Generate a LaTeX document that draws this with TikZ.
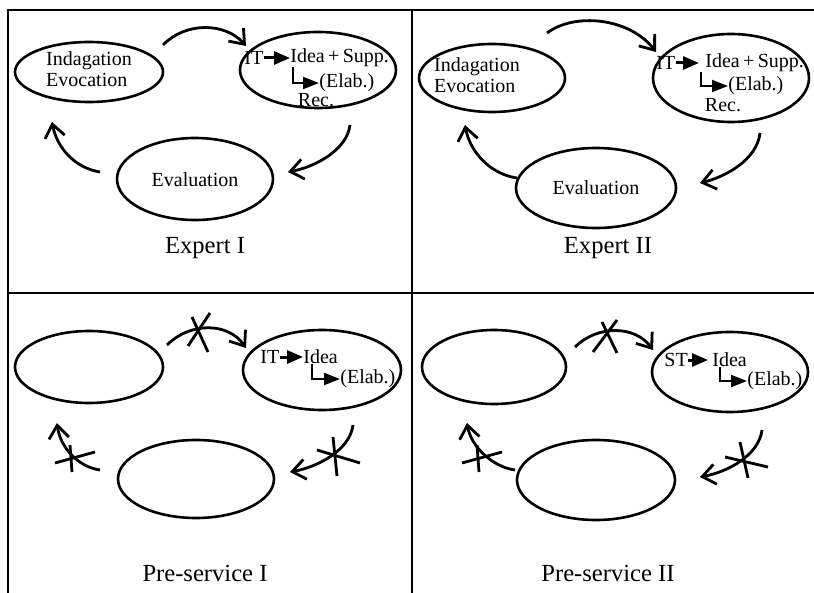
\documentclass[tikz,border=0pt]{standalone}
\usepackage{fontspec}
\setmainfont{Liberation Serif}
\usetikzlibrary{arrows.meta,shapes.geometric}
\tikzset{
  ell/.style={draw, ellipse, line width=1.3pt, inner sep=0pt},
  txt/.style={inner sep=0pt, font=\fontsize{10}{10.5}\selectfont},
  lab/.style={inner sep=0pt, font=\fontsize{12.3}{14}\selectfont},
  flow/.style={line width=1.4pt, -{Straight Barb[length=6.5pt,width=10pt,line width=1.4pt]}},
  fillarrow/.style={line width=1.5pt, -{Triangle[length=8pt,width=6.5pt]}},
  lbar/.style={line width=1pt, -{Triangle[length=8pt,width=6pt]}},
  cross/.style={line width=1.4pt},
  frame/.style={line width=1.2pt}
}
\begin{document}
\begin{tikzpicture}[x=0.5pt,y=-0.5pt]
\useasboundingbox (0,0) rectangle (814,593);
% frame
\draw[frame] (8,593) -- (8,10) -- (814,10);
\draw[frame] (412,10) -- (412,593);
\draw[frame] (8,293) -- (814,293);

% ---------------- Expert I ----------------
\node[ell, minimum width=74pt, minimum height=30pt] (a1) at (89,72) {};
\node[txt, align=left] (a1t) at (89,69) {Indagation\\Evocation};
\node[ell, minimum width=78pt, minimum height=38pt] (b1) at (318,70) {};
\node[txt, anchor=west] (it1) at (244,58) {IT};
\node[txt, anchor=west] (idea1) at (290,58) {Idea\,+\,Supp.};
\node[txt, anchor=west] (elab1) at (319,83) {(Elab.)};
\node[txt] (rec1) at (316,100) {Rec.};
\draw[fillarrow] (it1.east) -- (idea1.west);
\draw[lbar] ([xshift=1.5pt]idea1.south west) |- (elab1.west);
\node[ell, minimum width=78pt, minimum height=41pt] (c1) at (195,179) {};
\node[txt] (c1t) at (195,180) {Evaluation};
\node[lab] (l1) at (205,248) {Expert I};
\coordinate (t1s) at (163,45); \coordinate (t1e) at (246,46);
\coordinate (r1s) at (350,125); \coordinate (r1e) at (288,172);
\coordinate (s1s) at (100,172); \coordinate (s1e) at (52,122);
\draw[flow] (t1s) .. controls (185,22) and (225,22) .. (t1e);
\draw[flow] (r1s) .. controls (347,150) and (315,167) .. (r1e);
\draw[flow] (s1s) .. controls (75,168) and (57,148) .. (s1e);

% ---------------- Expert II ----------------
\node[ell, minimum width=73pt, minimum height=34pt] (a2) at (492,78) {};
\node[txt, align=left] (a2t) at (477,75) {Indagation\\Evocation};
\node[ell, minimum width=78pt, minimum height=44pt] (b2) at (731,78) {};
\node[txt, anchor=west] (it2) at (656,63) {IT};
\node[txt, anchor=west] (idea2) at (705,63) {Idea\,+\,Supp.};
\node[txt, anchor=west] (elab2) at (728,86) {(Elab.)};
\node[txt] (rec2) at (723,105) {Rec.};
\draw[fillarrow] (it2.east) -- ([xshift=-3pt]idea2.west);
\draw[lbar] ([xshift=-2pt]idea2.south west) |- (elab2.west);
\node[ell, minimum width=80pt, minimum height=40pt] (c2) at (596,188) {};
\node[txt] (c2t) at (596,188) {Evaluation};
\node[lab] (l2) at (608,248) {Expert II};
\coordinate (t2s) at (547,33); \coordinate (t2e) at (656,52);
\coordinate (r2s) at (760,133); \coordinate (r2e) at (700,183);
\coordinate (s2s) at (517,178); \coordinate (s2e) at (465,125);
\draw[flow] (t2s) .. controls (575,12) and (630,18) .. (t2e);
\draw[flow] (r2s) .. controls (757,160) and (725,177) .. (r2e);
\draw[flow] (s2s) .. controls (490,174) and (470,152) .. (s2e);

% ---------------- Pre-service I ----------------
\node[ell, minimum width=74pt, minimum height=36pt] (a3) at (89,367) {};
\node[ell, minimum width=79pt, minimum height=40pt] (b3) at (322,370) {};
\node[txt, anchor=west] (it3) at (260,357) {IT};
\node[txt, anchor=west] (idea3) at (303,357) {Idea};
\node[txt, anchor=west] (elab3) at (340,379) {(Elab.)};
\draw[fillarrow] (it3.east) -- (idea3.west);
\draw[lbar] ([xshift=4.5pt]idea3.south west) |- (elab3.west);
\node[ell, minimum width=78pt, minimum height=39pt] (c3) at (196,479) {};
\node[lab] (l3) at (205,573) {Pre-service I};
\coordinate (t3s) at (167,345); \coordinate (t3e) at (246,348);
\coordinate (r3s) at (353,425); \coordinate (r3e) at (290,472);
\coordinate (s3s) at (100,470); \coordinate (s3e) at (57,423);
\draw[flow] (t3s) .. controls (190,322) and (228,322) .. (t3e);
\draw[flow] (r3s) .. controls (350,450) and (318,467) .. (r3e);
\draw[flow] (s3s) .. controls (78,467) and (60,447) .. (s3e);
\draw[cross] (210,313) -- (188,346);
\draw[cross] (192,317) -- (208,352);
\draw[cross] (317,450) -- (360,463);
\draw[cross] (333,437) -- (337,476);
\draw[cross] (55,463) -- (95,452);
\draw[cross] (70,445) -- (72,472);

% ---------------- Pre-service II ----------------
\node[ell, minimum width=72pt, minimum height=37pt] (a4) at (494,367) {};
\node[ell, minimum width=78pt, minimum height=40pt] (b4) at (730,372) {};
\node[txt, anchor=west] (it4) at (664,360) {ST};
\node[txt, anchor=west] (idea4) at (712,360) {Idea};
\node[txt, anchor=west] (elab4) at (747,381) {(Elab.)};
\draw[fillarrow] (it4.east) -- ([xshift=-2pt]idea4.west);
\draw[lbar] ([xshift=4pt]idea4.south west) |- (elab4.west);
\node[ell, minimum width=79pt, minimum height=40pt] (c4) at (596,480) {};
\node[lab] (l4) at (608,573) {Pre-service II};
\coordinate (t4s) at (575,347); \coordinate (t4e) at (653,350);
\coordinate (r4s) at (762,430); \coordinate (r4e) at (700,477);
\coordinate (s4s) at (515,470); \coordinate (s4e) at (467,423);
\draw[flow] (t4s) .. controls (597,325) and (635,325) .. (t4e);
\draw[flow] (r4s) .. controls (759,455) and (728,472) .. (r4e);
\draw[flow] (s4s) .. controls (493,467) and (471,447) .. (s4e);
\draw[cross] (617,320) -- (593,352);
\draw[cross] (602,322) -- (617,353);
\draw[cross] (725,457) -- (768,467);
\draw[cross] (740,442) -- (748,478);
\draw[cross] (462,463) -- (502,452);
\draw[cross] (477,445) -- (479,472);
\end{tikzpicture}
\end{document}
